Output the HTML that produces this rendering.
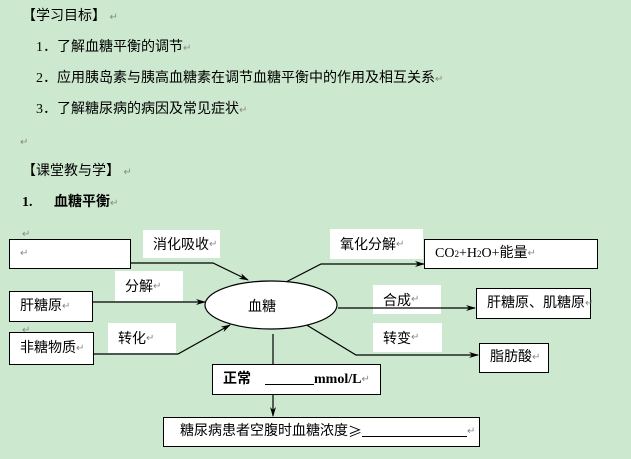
<!DOCTYPE html>
<html><head><meta charset="utf-8"><style>
body{margin:0;width:631px;height:459px;background:#cce8cf;position:relative;overflow:hidden;font-family:"Liberation Serif","Noto Sans CJK SC",serif;font-size:14px;color:#000}
.t{position:absolute;white-space:nowrap;line-height:16px}
.r{color:#888;font-size:10px}
.b{position:absolute;background:#fff;border:1px solid #000;box-sizing:border-box;white-space:nowrap;line-height:16px;padding:0 10px;display:flex;align-items:center}
.w{position:absolute;background:#fff;white-space:nowrap;display:flex;align-items:center;padding-left:10px;box-sizing:border-box}
svg{position:absolute;left:0;top:0}
</style></head><body>
<div class="t" style="left:22px;top:9px">【学习目标】 <span class="r">↵</span></div>
<div class="t" style="left:36px;top:40px">1．了解血糖平衡的调节<span class="r">↵</span></div>
<div class="t" style="left:36px;top:71px">2．应用胰岛素与胰高血糖素在调节血糖平衡中的作用及相互关系<span class="r">↵</span></div>
<div class="t" style="left:36px;top:102px">3．了解糖尿病的病因及常见症状<span class="r">↵</span></div>
<div class="t r" style="left:20px;top:135px">↵</div>
<div class="t" style="left:22px;top:164px">【课堂教与学】 <span class="r">↵</span></div>
<div class="t" style="left:22px;top:195px;font-weight:bold">1.</div>
<div class="t" style="left:54px;top:195px;font-weight:bold">血糖平衡<span class="r" style="font-weight:normal">↵</span></div>
<div class="t r" style="left:22px;top:227px">↵</div>
<div class="t r" style="left:22px;top:323px">↵</div>

<div class="w" style="left:143px;top:230px;width:77px;height:28px">消化吸收<span class="r">↵</span></div>
<div class="w" style="left:115px;top:271px;width:68px;height:30px">分解<span class="r">↵</span></div>
<div class="w" style="left:108px;top:323px;width:68px;height:30px">转化<span class="r">↵</span></div>
<div class="w" style="left:330px;top:229px;width:93px;height:30px">氧化分解<span class="r">↵</span></div>
<div class="w" style="left:373px;top:285px;width:68px;height:29px">合成<span class="r">↵</span></div>
<div class="w" style="left:373px;top:323px;width:69px;height:29px">转变<span class="r">↵</span></div>

<svg width="631" height="459">
<defs><marker id="a" markerWidth="10" markerHeight="6" refX="9" refY="3" orient="auto" markerUnits="userSpaceOnUse"><path d="M0,0L10,3L0,6L3,3z" fill="#000"/></marker></defs>
<g stroke="#000" stroke-width="1.2" fill="none">
<polyline points="130,263 213,263 248,280" marker-end="url(#a)"/>
<line x1="92" y1="302" x2="205" y2="302" marker-end="url(#a)"/>
<polyline points="93,354 178,354 230,325" marker-end="url(#a)"/>
<polyline points="286,282 321,264 424,264" marker-end="url(#a)"/>
<line x1="338" y1="308" x2="475" y2="308" marker-end="url(#a)"/>
<polyline points="305,324 356,355 478,355" marker-end="url(#a)"/>
<line x1="273" y1="334" x2="273" y2="366"/>
<line x1="273" y1="394" x2="273" y2="416" marker-end="url(#a)"/>
</g>
<ellipse cx="271" cy="305" rx="66" ry="24" fill="#fff" stroke="#000" stroke-width="1.2"/>
<text x="248" y="311" font-family="Noto Sans CJK SC" font-size="14">血糖</text>
</svg>

<div class="b" style="left:9px;top:239px;width:122px;height:30px"><span class="r">↵</span></div>
<div class="b" style="left:9px;top:291px;width:84px;height:31px">肝糖原<span class="r">↵</span></div>
<div class="b" style="left:9px;top:332px;width:85px;height:33px">非糖物质<span class="r">↵</span></div>
<div class="b" style="left:424px;top:239px;width:174px;height:30px">CO<sub style="font-size:9px">2</sub>+H<sub style="font-size:9px">2</sub>O+能量<span class="r">↵</span></div>
<div class="b" style="left:476px;top:288px;width:115px;height:31px">肝糖原、肌糖原<span class="r">↵</span></div>
<div class="b" style="left:479px;top:343px;width:70px;height:30px">脂肪酸<span class="r">↵</span></div>
<div class="b" style="left:212px;top:364px;width:169px;height:31px;font-weight:bold">正常&nbsp;&nbsp;&nbsp;&nbsp;<span style="text-decoration:underline">&nbsp;&nbsp;&nbsp;&nbsp;&nbsp;&nbsp;&nbsp;&nbsp;&nbsp;&nbsp;&nbsp;&nbsp;&nbsp;&nbsp;</span>mmol/L<span class="r" style="font-weight:normal">↵</span></div>
<div class="b" style="left:163px;top:417px;width:317px;height:30px;padding-left:16px">糖尿病患者空腹时血糖浓度<span style="font-family:'Noto Sans CJK SC',sans-serif">≥</span><span style="text-decoration:underline">&nbsp;&nbsp;&nbsp;&nbsp;&nbsp;&nbsp;&nbsp;&nbsp;&nbsp;&nbsp;&nbsp;&nbsp;&nbsp;&nbsp;&nbsp;&nbsp;&nbsp;&nbsp;&nbsp;&nbsp;&nbsp;&nbsp;&nbsp;&nbsp;&nbsp;&nbsp;&nbsp;&nbsp;&nbsp;&nbsp;</span><span class="r">↵</span></div>
</body></html>
